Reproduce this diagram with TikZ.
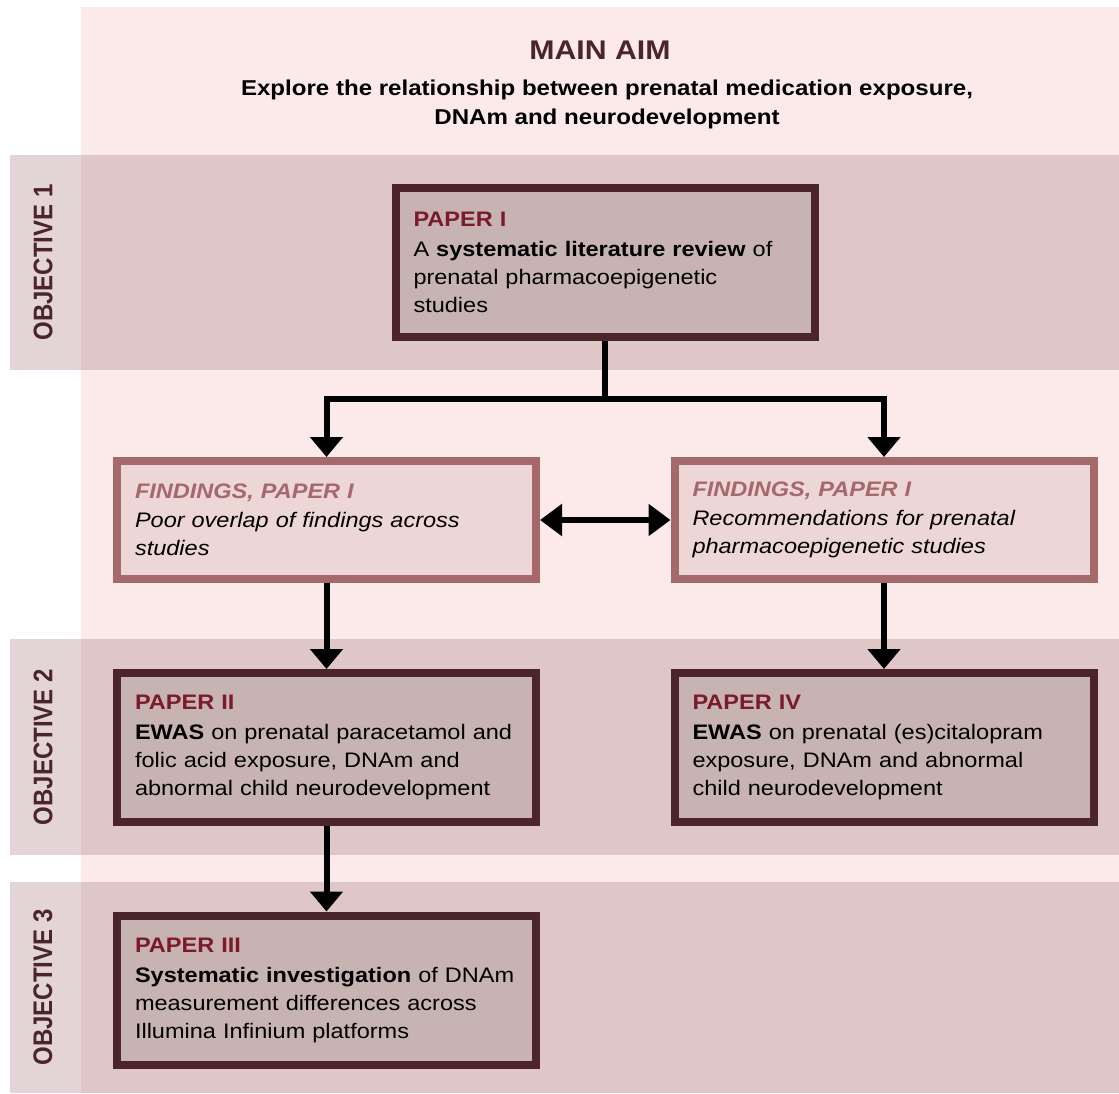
\documentclass[tikz,border=0pt]{standalone}
\usepackage{fontspec}
\setmainfont{Liberation Sans}[FakeStretch=1.12]
\newfontfamily\objfont{Liberation Sans}
\usepackage{graphicx}
\usetikzlibrary{arrows.meta}
\definecolor[named]{AimDark}{HTML}{4B252B}
\definecolor[named]{AimRed}{HTML}{7A1A2A}
\definecolor[named]{AimRose}{HTML}{A5686B}
\definecolor[named]{AimPink}{HTML}{FCEAEA}
\definecolor[named]{AimBand}{HTML}{DFC7C7}
\definecolor[named]{AimStrip}{HTML}{E3D5D7}
\definecolor[named]{AimBox}{HTML}{C8B3B3}
\definecolor[named]{AimFind}{HTML}{ECD6D6}
\newcommand{\ptitle}[1]{{\color{AimRed}\bfseries #1}}
\newcommand{\ftitle}[1]{{\color{AimRose}\bfseries #1}}
\tikzset{
  paper/.style={draw=AimDark,fill=AimBox,line width=8pt,
    minimum width=419pt,minimum height=149pt,
    text width=383pt,inner xsep=18pt,align=left,
    font=\fontsize{21}{28}\selectfont},
  finding/.style={paper,draw=AimRose,fill=AimFind,minimum height=118pt,
    font=\fontsize{21}{28}\selectfont\itshape},
  objlabel/.style={rotate=90,text=AimDark,
    font=\objfont\bfseries\fontsize{24}{24}\selectfont},
  conn/.style={line width=6pt},
  arr/.style={conn,-{Triangle[length=20pt,width=32pt]}}
}

\begin{document}
\begin{tikzpicture}[x=1pt,y=-1pt]
  \useasboundingbox (0,0) rectangle (1119,1093);
  \fill[AimPink] (81,7) rectangle (1119,1093);
  \foreach \top/\bot in {155/370,639/855,882/1093}{
    \fill[AimStrip] (10,\top) rectangle (81,\bot);
    \fill[AimBand] (81,\top) rectangle (1119,\bot);
  }
  \node[objlabel] (obj1) at (43,262.5) {\scalebox{1}[1.12]{OBJECTIVE 1}};
  \node[objlabel] (obj2) at (43,747) {\scalebox{1}[1.12]{OBJECTIVE 2}};
  \node[objlabel] (obj3) at (43,987.5) {\scalebox{1}[1.12]{OBJECTIVE 3}};

  \node[text=AimDark,font=\bfseries\fontsize{27}{27}\selectfont] (aim) at (600,50) {MAIN AIM};
  \node[align=center,font=\bfseries\fontsize{21.5}{29}\selectfont] (aimtext) at (607,104)
    {Explore the relationship between prenatal medication exposure,\\ DNAm and neurodevelopment};

  \node[paper] (p1) at (605,262) {\ptitle{PAPER I}\\[2pt]
    A \textbf{systematic literature review} of\\ prenatal pharmacoepigenetic\\ studies};
  \node[finding] (f1) at (326.5,520) {\ftitle{FINDINGS, PAPER I}\\[1pt]
    Poor overlap of findings across\\ studies};
  \node[finding] (f2) at (884,520) {\ftitle{FINDINGS, PAPER I}\\[1pt]
    Recommendations for prenatal\\ pharmacoepigenetic studies};
  \node[paper] (p2) at (326.5,747.5) {\ptitle{PAPER II}\\[2pt]
    \textbf{EWAS} on prenatal paracetamol and\\ folic acid exposure, DNAm and\\ abnormal child neurodevelopment};
  \node[paper] (p4) at (884,747.5) {\ptitle{PAPER IV}\\[2pt]
    \textbf{EWAS} on prenatal (es)citalopram\\ exposure, DNAm and abnormal\\ child neurodevelopment};
  \node[paper] (p3) at (326.5,990) {\ptitle{PAPER III}\\[2pt]
    \textbf{Systematic investigation} of DNAm\\ measurement differences across\\ Illumina Infinium platforms};

  \draw[conn] (p1.south) -- ++(0,58) coordinate (split);
  \draw[arr] (split) -| (f1.north);
  \draw[arr] (split) -| (f2.north);
  \draw[conn,{Triangle[length=22pt,width=31pt]}-{Triangle[length=22pt,width=31pt]}] (f1.east) -- (f2.west);
  \draw[arr] (f1.south) -- (p2.north);
  \draw[arr] (f2.south) -- (p4.north);
  \draw[arr] (p2.south) -- (p3.north);
\end{tikzpicture}
\end{document}
